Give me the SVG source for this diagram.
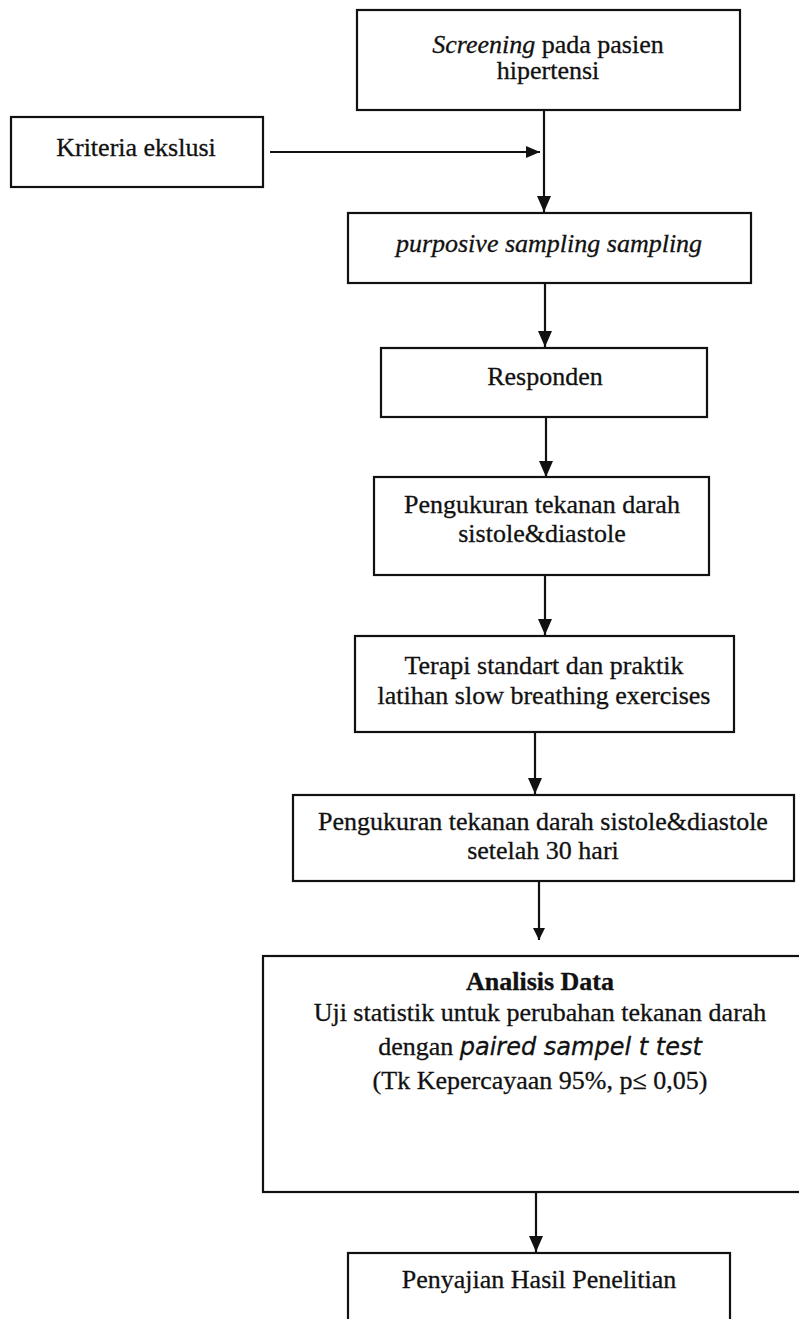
<svg xmlns="http://www.w3.org/2000/svg" width="799" height="1319" viewBox="0 0 799 1319">
<defs>
<style>
.box{fill:none;stroke:#111;stroke-width:2.2}
.t{font-family:"Liberation Serif","Times New Roman",serif;font-size:26px;fill:#111;stroke:#111;stroke-width:0.3;text-anchor:middle}
.i{font-style:italic}
.b{font-weight:bold}
.s{font-family:"DejaVu Sans",Verdana,sans-serif;font-style:italic;font-size:24px}
.ln{stroke:#111;stroke-width:2.2;fill:none}
</style>
<marker id="ah" viewBox="0 0 14 12" refX="14" refY="6" markerWidth="14" markerHeight="12" markerUnits="userSpaceOnUse" orient="auto">
<path d="M0,0 L14,6 L0,12 Z" fill="#111"/>
</marker>
<marker id="ahv" viewBox="0 0 16 14" refX="16" refY="7" markerWidth="16" markerHeight="14" markerUnits="userSpaceOnUse" orient="auto">
<path d="M0,0 L16,7 L0,14 Z" fill="#111"/>
</marker>
<marker id="ahs" viewBox="0 0 12 12" refX="12" refY="6" markerWidth="12" markerHeight="12" markerUnits="userSpaceOnUse" orient="auto">
<path d="M0,0 L12,6 L0,12 Z" fill="#111"/>
</marker>
</defs>
<rect x="0" y="0" width="799" height="1319" fill="#fff"/>
<g id="connectors">
<line class="ln" x1="270" y1="152" x2="540" y2="152" marker-end="url(#ah)"/>
<line class="ln" x1="544" y1="110" x2="544" y2="212" marker-end="url(#ahv)"/>
<line class="ln" x1="545" y1="283" x2="545" y2="347" marker-end="url(#ahv)"/>
<line class="ln" x1="546" y1="417" x2="546" y2="477" marker-end="url(#ahv)"/>
<line class="ln" x1="545" y1="575" x2="545" y2="635" marker-end="url(#ahv)"/>
<line class="ln" x1="535" y1="732" x2="535" y2="794" marker-end="url(#ahv)"/>
<line class="ln" x1="539" y1="881" x2="539" y2="940" marker-end="url(#ahs)"/>
<line class="ln" x1="536" y1="1192" x2="536" y2="1252" marker-end="url(#ahv)"/>
</g>
<g id="screening">
<rect class="box" x="357" y="10" width="383" height="100"/>
<text class="t" x="548" y="53"><tspan class="i">Screening</tspan> pada pasien</text>
<text class="t" x="548" y="79">hipertensi</text>
</g>
<g id="kriteria">
<rect class="box" x="11" y="117" width="252" height="70"/>
<text class="t" x="136" y="156">Kriteria ekslusi</text>
</g>
<g id="purposive">
<rect class="box" x="348" y="213" width="403" height="70"/>
<text class="t i" x="549" y="252">purposive sampling sampling</text>
</g>
<g id="responden">
<rect class="box" x="381" y="348" width="326" height="69"/>
<text class="t" x="545" y="385">Responden</text>
</g>
<g id="pengukuran1">
<rect class="box" x="374" y="477" width="335" height="98"/>
<text class="t" x="542" y="513">Pengukuran tekanan darah</text>
<text class="t" x="542" y="542">sistole&amp;diastole</text>
</g>
<g id="terapi">
<rect class="box" x="355" y="636" width="379" height="96"/>
<text class="t" x="544" y="674">Terapi standart dan praktik</text>
<text class="t" x="544" y="704">latihan slow breathing exercises</text>
</g>
<g id="pengukuran2">
<rect class="box" x="293" y="795" width="501" height="86"/>
<text class="t" x="543" y="830">Pengukuran tekanan darah sistole&amp;diastole</text>
<text class="t" x="543" y="859">setelah 30 hari</text>
</g>
<g id="analisis">
<rect class="box" x="263" y="956" width="550" height="236"/>
<text class="t b" x="540" y="990">Analisis Data</text>
<text class="t" x="540" y="1021">Uji statistik untuk perubahan tekanan darah</text>
<text class="t" x="540" y="1055">dengan <tspan class="s">paired sampel t test</tspan></text>
<text class="t" x="540" y="1089">(Tk Kepercayaan 95%, p≤ 0,05)</text>
</g>
<g id="penyajian">
<rect class="box" x="348" y="1253" width="382" height="80"/>
<text class="t" x="539" y="1288">Penyajian Hasil Penelitian</text>
</g>
</svg>
